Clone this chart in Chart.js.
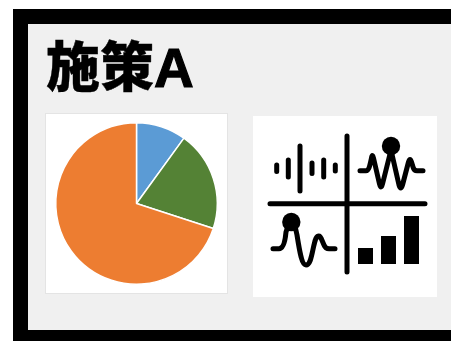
<!DOCTYPE html>
<html lang="ja">
<head>
    <meta charset="UTF-8">
    <title>施策A</title>
    <script src="https://cdn.jsdelivr.net/npm/chart.js"></script>
    <style>
        html, body { margin: 0; padding: 0; background: #fff; overflow: hidden; }
        body { position: relative; width: 451px; height: 341px; }
        .panel {
            position: absolute; left: 13px; top: 9px; width: 438px; height: 332px;
            box-sizing: border-box; background: #f0f0f0;
            border-left: 15px solid #000; border-top: 15px solid #000; border-bottom: 11px solid #000;
        }
        h1 {
            position: absolute; left: 46px; top: 32px; margin: 0;
            font: 900 54px/72px "Liberation Sans", "Noto Sans CJK JP", sans-serif; color: #000;
            -webkit-text-stroke: 0.4px #000;
        }
        h1 span { font-size: 55px; font-weight: 700; -webkit-text-stroke: 1.2px #000; }
        .pie-box {
            position: absolute; left: 45px; top: 113px; width: 183px; height: 181px;
            box-sizing: border-box; background: #fff; border: 1px solid #e4e4e4;
        }
        .pie-box canvas { position: absolute; left: 0; top: 0; }
        .icon { position: absolute; left: 253px; top: 116px; width: 184px; height: 181px; background: #fff; }
    </style>
</head>
<body>
    <div class="panel"></div>
    <h1>施策<span>A</span></h1>
    <div class="pie-box"><canvas id="pieChart" width="181" height="179"></canvas></div>

    <!-- decorative pictogram, not data -->
    <svg class="icon" viewBox="253 116 184 181" fill="none" stroke="#000" stroke-linecap="round" stroke-linejoin="round">
        <g stroke-width="5">
            <path d="M347 136V272M270 203.7H425"/>
            <path d="M276.7 165V171.5M288.3 160V177M300 146V191M312 163V173.5M323.7 160V177M335.3 165V171"/>
            <path d="M360 170.7H366C369 170.7 370 165 371.7 157Q372.5 154 373.5 158L379.5 184Q381 190 382.5 184L391 150L399 185Q400.7 191 402.5 185L408.5 162Q410 157 411.5 162L413 167Q414 170.7 417 170.7H423"/>
            <path d="M273 248.7H279C283 248.7 285 243 286 232L288 226H295L297 235C300 254 302 265 306 265C311 265 312 252 314.5 243C316 236 319 234 321 238L324 245Q325.5 248.7 329 248.7H335"/>
        </g>
        <g fill="#000" stroke="none">
            <circle cx="391" cy="146" r="9.2"/>
            <circle cx="291.3" cy="222" r="9.2"/>
            <rect x="358" y="248" width="15" height="16"/>
            <rect x="381" y="236" width="15" height="28"/>
            <rect x="404" y="216" width="15" height="48"/>
        </g>
    </svg>

    <script>
        const categories = ['A', 'B', 'C'];
        const shares = [10, 20, 70];
        const sliceColors = ['#5B9BD5', '#548235', '#ED7D31'];

        new Chart(document.getElementById('pieChart'), {
            type: 'pie',
            data: {
                labels: categories,
                datasets: [{
                    data: shares,
                    backgroundColor: sliceColors,
                    borderColor: '#fff',
                    borderWidth: 1.5
                }]
            },
            options: {
                responsive: false,
                animation: false,
                layout: { padding: 8 },
                plugins: { legend: { display: false }, tooltip: { enabled: false } }
            }
        });
    </script>
</body>
</html>
